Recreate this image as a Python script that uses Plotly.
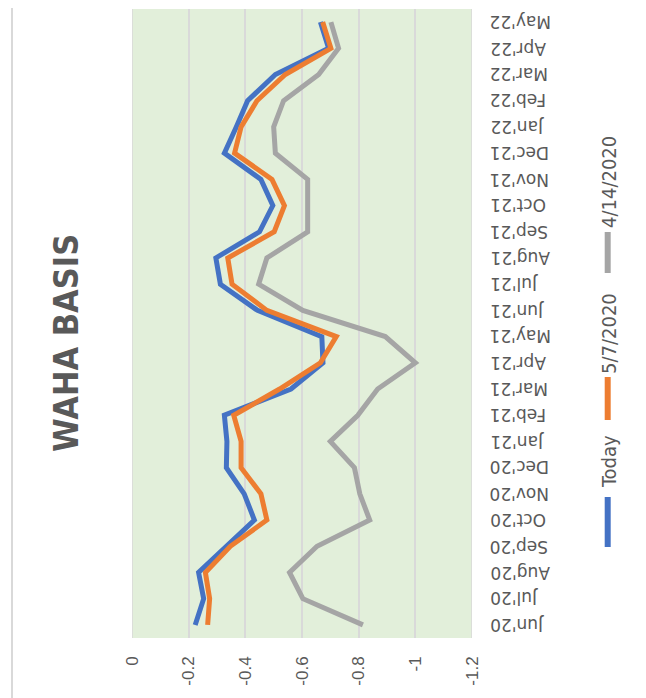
import plotly.graph_objects as go

months = ["Jun'20", "Jul'20", "Aug'20", "Sep'20", "Oct'20", "Nov'20", "Dec'20",
          "Jan'21", "Feb'21", "Mar'21", "Apr'21", "May'21", "Jun'21", "Jul'21",
          "Aug'21", "Sep'21", "Oct'21", "Nov'21", "Dec'21", "Jan'22", "Feb'22",
          "Mar'22", "Apr'22", "May'22"]

today = [-0.223, -0.253, -0.235, -0.333, -0.432, -0.396, -0.333, -0.335, -0.326,
         -0.561, -0.674, -0.670, -0.443, -0.312, -0.296, -0.450, -0.497, -0.455,
         -0.326, -0.368, -0.408, -0.506, -0.694, -0.665]
may7 = [-0.267, -0.274, -0.259, -0.347, -0.476, -0.455, -0.385, -0.385, -0.359,
        -0.521, -0.665, -0.721, -0.476, -0.353, -0.338, -0.502, -0.538, -0.494,
        -0.362, -0.385, -0.441, -0.541, -0.702, -0.673]
apr14 = [-0.815, -0.603, -0.556, -0.653, -0.839, -0.804, -0.785, -0.700, -0.797,
         -0.867, -1.000, -0.894, -0.603, -0.447, -0.476, -0.620, -0.620, -0.620,
         -0.506, -0.500, -0.535, -0.659, -0.729, -0.702]

series_names = ["Today", "5/7/2020", "4/14/2020"]
series_values = [today, may7, apr14]
series_colors = ["#4472C4", "#ED7D31", "#A5A5A5"]

value_ticks = [0, -0.2, -0.4, -0.6, -0.8, -1, -1.2]
value_tick_text = ["0", "-0.2", "-0.4", "-0.6", "-0.8", "-1", "-1.2"]

title_text = "WAHA BASIS"

# page offset of the plot div (default body margin)
OFF = 8
FIG_W, FIG_H = 638, 690
ML, MR, MT, MB = 124, 174, 1, 60   # plot area: page x 132..472, page y 9..638

fig = go.Figure()
for name, vals, col in zip(series_names, series_values, series_colors):
    fig.add_trace(go.Scatter(x=vals, y=months, mode="lines", name=name,
                             line=dict(color=col, width=5), showlegend=False))

narrow = "Liberation Sans Narrow, DejaVu Sans Condensed, Arial Narrow, sans-serif"

fig.update_layout(
    width=FIG_W, height=FIG_H,
    margin=dict(l=ML, r=MR, t=MT, b=MB, autoexpand=False),
    paper_bgcolor="white",
    plot_bgcolor="#E2EFDA",
    xaxis=dict(range=[0, -1.2], tickvals=value_ticks, ticktext=value_tick_text,
               tickangle=-90, showgrid=True, gridcolor="#D9D9D9", gridwidth=1.5,
               zeroline=False, showline=False, ticks="",
               ticklabelstandoff=14,
               tickfont=dict(family="Liberation Sans, Arial, sans-serif", size=17,
                             color="#595959")),
    yaxis=dict(type="category", categoryorder="array", categoryarray=months,
               range=[-0.5, 23.5], side="right",
               showgrid=False, zeroline=False, showline=False, ticks="",
               showticklabels=False),
)

plot_w = FIG_W - ML - MR
plot_h = FIG_H - MT - MB

def px_x(p):
    return (p - OFF - ML) / plot_w

def px_y(p):
    return (FIG_H - MB + OFF - p) / plot_h

# vertical gridlines at plot edges
for xv in (0, -1.2):
    fig.add_shape(type="line", xref="x", yref="paper", x0=xv, x1=xv, y0=0, y1=1,
                  line=dict(color="#D9D9D9", width=1.5), layer="below")

# category labels (upside-down, left aligned beside the plot)
for m in months:
    fig.add_annotation(text=m, xref="paper", yref="y", x=px_x(488), y=m,
                       textangle=180, showarrow=False, xanchor="left", yanchor="middle",
                       font=dict(family="DejaVu Sans, sans-serif", size=17, color="#595959"))

# outer border line
fig.add_shape(type="line", xref="paper", yref="paper",
              x0=px_x(12), x1=px_x(12), y0=px_y(698), y1=px_y(0),
              line=dict(color="#D9D9D9", width=2))

# title
fig.add_annotation(text="<b>" + title_text + "</b>", xref="paper", yref="paper",
                   x=px_x(66), y=px_y(343), textangle=-90, showarrow=False,
                   xanchor="center", yanchor="middle",
                   font=dict(family=narrow, size=34, color="#595959"))

# legend (rotated)
leg_lines = [(497, 547), (377, 420), (232, 273)]
leg_text_y = [462, 334, 182]
for name, col, (ya, yb), ty in zip(series_names, series_colors, leg_lines, leg_text_y):
    fig.add_shape(type="line", xref="paper", yref="paper",
                  x0=px_x(607.7), x1=px_x(607.7), y0=px_y(yb), y1=px_y(ya),
                  line=dict(color=col, width=6))
    fig.add_annotation(text=name, xref="paper", yref="paper",
                       x=px_x(609), y=px_y(ty), textangle=-90, showarrow=False,
                       xanchor="center", yanchor="middle",
                       font=dict(family=narrow, size=20, color="#595959"))

fig.write_html("out.html")
